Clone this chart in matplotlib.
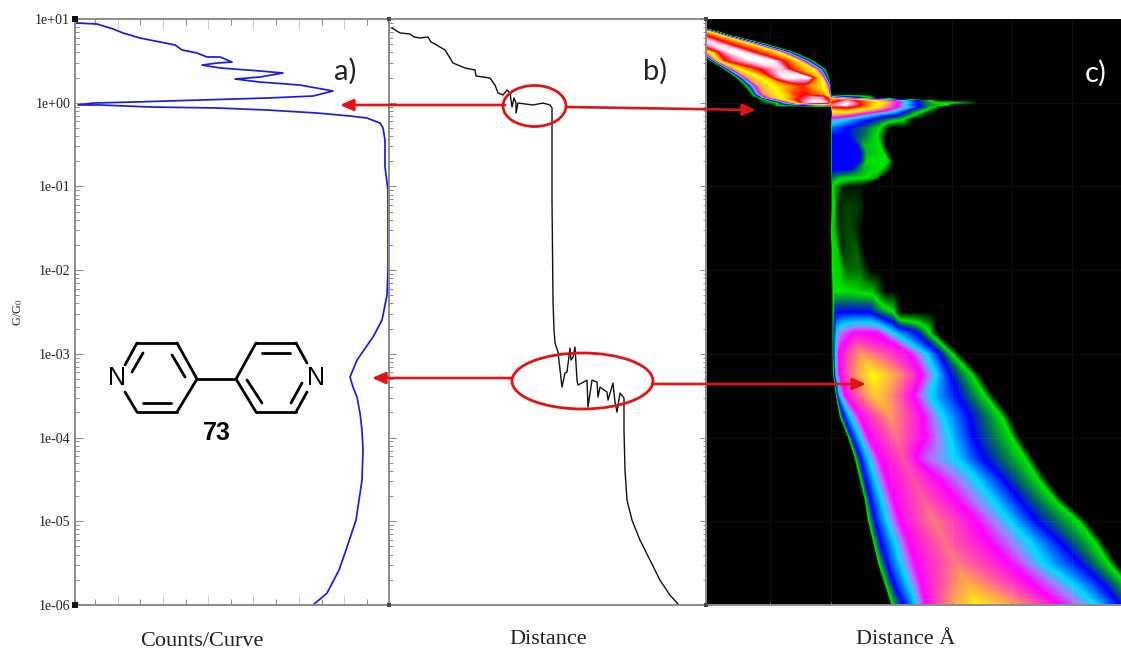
import numpy as np
import matplotlib
matplotlib.use("Agg")
import matplotlib.pyplot as plt
from matplotlib.colors import LinearSegmentedColormap
from matplotlib.patches import Ellipse
from matplotlib.ticker import FixedLocator, FixedFormatter, NullFormatter

plt.rcParams['font.family'] = ['Liberation Serif', 'DejaVu Serif']
plt.rcParams['mathtext.fontset'] = 'stix'

# ---------------- data ----------------
decades = [1e1, 1e0, 1e-1, 1e-2, 1e-3, 1e-4, 1e-5, 1e-6]
tick_labels = ['1e+01', '1e+00', '1e-01', '1e-02', '1e-03', '1e-04', '1e-05', '1e-06']

counts_x = [2, 22, 38, 48, 65, 85, 100, 107, 122, 132, 145, 157, 142, 127, 145, 185, 208, 185, 160, 185,
            225, 258, 238, 192, 125, 58, 18, 3, 25, 75, 142, 192, 242, 275, 292, 305, 308, 310, 310, 313,
            313, 313, 312, 307, 298, 282, 275, 278, 282, 285, 287, 288, 287, 281, 271, 264, 252, 238]
counts_log_g = [.952, .940, .881, .833, .773, .725, .690, .630, .594, .546, .546, .486, .474, .450, .415,
                .379, .355, .307, .283, .247, .211, .140, .080, .056, .032, .008, -.004, -.027, -.027,
                -.051, -.063, -.087, -.123, -.159, -.183, -.243, -.302, -.446, -.768, -1.043, -1.521,
                -1.999, -2.298, -2.597, -2.799, -3.074, -3.277, -3.397, -3.516, -3.707, -3.910, -4.149,
                -4.508, -4.986, -5.344, -5.583, -5.858, -6.0]

trace_x = [3, 11, 21, 25, 31, 39, 42, 46, 56, 61, 64, 76, 86, 87, 101, 106, 109, 114, 118, 121, 123, 125,
           127, 127, 129, 144, 154, 161, 163, 163, 163, 164, 165, 166, 169, 173, 176, 178, 181, 182, 184,
           186, 188, 189, 198, 199, 203, 208, 209, 211, 218, 219, 224, 226, 228, 231, 235, 235, 236, 238,
           243, 251, 261, 271, 281, 290]
trace_log_g = [.892, .833, .821, .785, .773, .785, .725, .701, .630, .534, .474, .415, .391, .319, .295,
               .211, .116, .092, .152, .116, -.051, .056, -.004, -.123, -.004, -.027, -.004, -.027, -.063,
               -.410, -1.163, -2.357, -2.716, -2.871, -2.979, -3.397, -3.229, -3.218, -2.931, -3.074,
               -3.039, -2.919, -3.314, -3.373, -3.314, -3.636, -3.314, -3.337, -3.516, -3.397, -3.456,
               -3.552, -3.349, -3.576, -3.696, -3.468, -3.528, -3.910, -4.388, -4.747, -4.986, -5.225,
               -5.464, -5.703, -5.883, -6.0]

# 2D histogram: for each log10(G) row, (distance, density level) readings
heat_rows = {
    0.90: list(zip([-620, -610, -600, -580, -500, -450, -400, -350, -300, -270, -255, -245, -236, -228],
                   [0, 1, 3, 5, 6.5, 8, 9, 9, 8, 7, 6, 3.5, 1, 0])),
    0.85: list(zip([-560, -550, -540, -520, -440, -390, -340, -300, -260, -230, -212, -200, -188, -180],
                   [0, 1, 3, 5, 6.5, 8, 9, 9, 8, 7, 6, 3.5, 1, 0])),
    0.80: list(zip([-490, -480, -470, -450, -370, -320, -280, -250, -220, -190, -170, -158, -148, -140],
                   [0, 1, 3, 5, 6.5, 8, 9.5, 9.5, 8, 7, 6, 3.5, 1, 0])),
    0.70: list(zip([-350, -340, -330, -310, -280, -250, -210, -180, -150, -110, -85, -65, -45, -35],
                   [0, 1, 3, 5, 6.5, 8, 9.7, 9.7, 8, 7, 6, 3.5, 1, 0])),
    0.60: list(zip([-245, -240, -232, -222, -200, -185, -150, -110, -70, -30, -3, 22, 40, 50],
                   [0, 1, 3, 5, 6.5, 8, 10, 10, 8, 7, 6, 3.5, 1, 0])),
    0.50: list(zip([-212, -207, -200, -192, -178, -165, -80, -20, 10, 35, 55, 78, 95, 105],
                   [0, 1, 3, 5, 6.5, 8, 10, 10, 8, 7, 6, 3.5, 1, 0])),
    0.40: list(zip([-172, -165, -155, -140, -110, -60, -10, 10, 30, 60, 100, 120, 132, 140],
                   [0, 1, 3, 5, 6.5, 8, 9.5, 9.5, 8, 7, 6, 3.5, 1, 0])),
    0.30: list(zip([-137, -128, -115, -100, -40, -25, 10, 90, 100, 110, 125, 136, 144, 148],
                   [0, 1, 3, 5, 6.5, 8, 10, 10, 8, 7, 6, 3.5, 1, 0])),
    0.20: list(zip([-112, -100, -85, -65, 0, 30, 60, 70, 90, 110, 140, 147, 151, 152],
                   [0, 1, 3, 5, 6.5, 7, 7.5, 7.5, 7, 6.5, 5.5, 4, 2, 0])),
    0.10: list(zip([-92, -80, -70, -50, 20, 40, 70, 80, 100, 130, 146, 150, 152, 153],
                   [0, 1, 3, 5, 6.5, 7.5, 8, 8, 7.5, 7, 5.5, 4, 2, 0])),
    0.06: [(-75, 0), (-65, 1), (-55, 3), (-30, 5), (20, 6.5), (60, 8), (100, 9.5), (130, 9), (150, 7), (153, 3),
           (155, 5), (200, 3), (240, 2), (270, 1), (290, 0)],
    0.03: [(-70, 0), (-40, 1), (-20, 3), (5, 5), (50, 8), (100, 10), (135, 9.5), (152, 7), (155, 7), (200, 9),
           (250, 7), (310, 5), (370, 3), (430, 1.5), (480, 0)],
    0.00: [(-65, 0), (-10, 1), (10, 3), (35, 5), (70, 9), (105, 10), (140, 9.5), (152, 7), (155, 8), (200, 10),
           (240, 8), (300, 6), (360, 4), (410, 2), (470, 1), (520, 1), (580, .3), (590, 0)],
    -0.03: [(-20, 0), (-10, 1), (60, 2), (152, 5), (155, 9), (190, 10), (240, 8), (290, 6), (350, 4), (390, 2.5),
            (440, 1.5), (500, 1), (520, 0)],
    -0.05: [(152, 0), (155, 8), (200, 8.5), (260, 7), (320, 5), (370, 3.5), (420, 2), (460, 1), (490, 0)],
    -0.10: [(153, 0), (155, 6), (200, 6.5), (260, 5), (310, 4), (350, 3), (380, 2), (420, 1.2), (470, 0)],
    -0.15: [(153, 0), (155, 5), (200, 4.5), (250, 3.5), (300, 2.5), (350, 2), (400, 1), (440, 0)],
    -0.20: [(153, 0), (155, 3.5), (200, 3), (260, 2.2), (320, 1.5), (370, 1), (400, 0)],
    -0.30: [(153, 0), (155, 2.5), (200, 2), (260, 1.5), (300, 1), (330, 0)],
    -0.40: [(153, 0), (155, 2), (200, 2), (250, 1.5), (290, 1), (320, 0)],
    -0.50: [(153, 0), (155, 2), (230, 2), (250, 1.2), (300, 1), (315, 0)],
    -0.60: [(153, 0), (155, 2), (240, 2), (260, 1.2), (310, 1), (330, 0)],
    -0.70: [(153, 0), (155, 2), (240, 2), (260, 1), (325, 1), (340, 0)],
    -0.80: [(153, 0), (155, 2), (210, 2), (250, 1.2), (300, 1), (340, 0)],
    -0.90: [(153, 0), (155, 1.5), (180, 1.1), (260, 1), (290, .7), (300, 0)],
    -1.00: [(153, 0), (155, 1), (170, .7), (190, .1), (240, .1), (250, 0)],
    -1.25: [(153, 0), (155, 1), (165, .9), (172, .15), (200, .3), (240, .25), (255, 0)],
    -1.50: [(151, 0), (153, 1), (165, .8), (175, .25), (210, .35), (250, 0)],
    -1.75: [(153, 0), (155, 1), (172, .9), (182, .25), (230, .45), (250, 0)],
    -2.00: [(153, 0), (155, 1), (180, .9), (200, .5), (240, .5), (270, 0)],
    -2.25: [(155, 0), (158, 1), (210, 1), (280, .8), (315, 0)],
    -2.50: [(155, 0), (158, 1), (165, 2), (270, 2), (300, 1.5), (340, 1), (360, 0)],
    -2.75: [(155, 0), (158, 1), (162, 2), (168, 3), (180, 3.5), (220, 4), (290, 4), (340, 3), (410, 2), (450, 1), (470, 0)],
    -3.00: [(155, 0), (158, 1), (160, 2), (165, 3), (175, 4), (240, 5), (390, 4), (440, 3), (480, 2), (515, 1), (540, 0)],
    -3.25: [(157, 0), (160, 1), (163, 2), (167, 3), (178, 4), (280, 6), (425, 4), (470, 3), (510, 2), (575, 1), (600, 0)],
    -3.50: [(165, 0), (168, 1), (172, 2), (178, 3), (195, 4), (290, 5.5), (400, 4), (450, 3), (535, 2), (615, 1), (640, 0)],
    -3.75: [(177, 0), (180, 1), (190, 2), (210, 3), (240, 4), (330, 5), (430, 4), (490, 3), (570, 2), (665, 1), (690, 0)],
    -4.00: [(202, 0), (205, 1), (215, 2), (240, 3), (265, 4), (350, 4.7), (435, 4), (510, 3), (580, 2), (695, 1), (720, 0)],
    -4.25: [(222, 0), (225, 1), (240, 2), (265, 3), (300, 4), (370, 4.5), (440, 3.6), (530, 3), (610, 2), (735, 1), (760, 0)],
    -4.50: [(237, 0), (240, 1), (255, 2), (285, 3), (320, 4), (400, 4.5), (480, 4), (590, 3), (670, 2), (775, 1), (800, 0)],
    -4.75: [(252, 0), (255, 1), (270, 2), (305, 3), (340, 4), (430, 4.6), (530, 4), (640, 3), (720, 2), (825, 1), (850, 0)],
    -5.00: [(262, 0), (265, 1), (285, 2), (320, 3), (360, 4), (460, 4.8), (590, 4), (690, 3), (770, 2), (895, 1), (920, 0)],
    -5.25: [(277, 0), (280, 1), (300, 2), (345, 3), (385, 4), (490, 4.7), (630, 4), (750, 3), (840, 2), (945, 1), (970, 0)],
    -5.50: [(292, 0), (295, 1), (320, 2), (360, 3), (405, 4), (530, 4.8), (690, 4), (790, 3), (900, 2), (985, 1), (1010, 0)],
    -5.75: [(312, 0), (315, 1), (340, 2), (385, 3), (425, 4), (560, 5.2), (760, 4), (880, 3), (970, 2), (1040, 1), (1060, 0)],
    -6.00: [(332, 0), (335, 1), (370, 2), (410, 3), (435, 4), (590, 5.9), (840, 4), (950, 3), (1020, 2), (1080, 1), (1100, 0)],
}
level_stops = [0, .5, 1, 1.5, 2, 3, 3.5, 4, 5, 6, 7, 8, 9, 10]
level_colors = ['#000000', '#006e00', '#00e600', '#006e5a', '#0000ff', '#00dcff', '#aa78ff', '#ff00ff',
                '#ff9a5a', '#ffff00', '#ff8c00', '#ff0000', '#ff82be', '#ffffff']

# ---------------- layout helpers ----------------
W, H = 1121, 650
fig = plt.figure(figsize=(W / 100, H / 100), dpi=100, facecolor='white')
GRAY = '#8c8c8c'


def make_axes(x0, x1, top=19, bottom=605):
    ax = fig.add_axes([x0 / W, 1 - bottom / H, (x1 - x0) / W, (bottom - top) / H])
    ax.set_yscale('log')
    ax.set_ylim(1e-6, 1e1)
    ax.yaxis.set_major_locator(FixedLocator(decades))
    minors = [d * s for d in decades[1:] for s in range(2, 10)]
    ax.yaxis.set_minor_locator(FixedLocator(minors))
    ax.yaxis.set_minor_formatter(NullFormatter())
    ax.set_xticks([])
    for s in ax.spines.values():
        s.set_color(GRAY)
        s.set_linewidth(1.4)
    return ax


# ---------------- panel a ----------------
ax_a = make_axes(75, 389)
ax_a.set_xlim(0, 314)
ax_a.plot(counts_x, 10.0 ** np.array(counts_log_g), color='#1c1ce0', lw=1.25)
ax_a.yaxis.set_major_formatter(FixedFormatter(tick_labels))
ax_a.tick_params(axis='y', which='major', direction='in', length=6, width=.8, color=GRAY,
                 labelsize=10, pad=3.5, labelcolor='#222222')
ax_a.tick_params(axis='y', which='minor', direction='in', length=3, width=.7, color=GRAY)
ax_a.set_xticks([20 + 45.3 * k for k in range(7)])
ax_a.set_xticks([42.5 + 45.3 * k for k in range(6)], minor=True)
ax_a.set_xticklabels([])
ax_a.tick_params(axis='x', which='major', direction='in', length=4.5, width=.8, color=GRAY, top=True, bottom=True)
ax_a.tick_params(axis='x', which='minor', direction='in', length=7, width=.6, color='#c4c4c4', top=True, bottom=True)
for t in ax_a.xaxis.get_minor_ticks():
    t.tick1line.set_linestyle((0, (1, 1)))
    t.tick2line.set_linestyle((0, (1, 1)))

# ---------------- panel b ----------------
ax_b = make_axes(389, 706)
ax_b.set_xlim(0, 317)
ax_b.plot(trace_x, 10.0 ** np.array(trace_log_g), color='#111111', lw=1.0)
ax_b.yaxis.set_major_formatter(NullFormatter())
ax_b.tick_params(axis='y', which='major', direction='in', length=5, width=.8, color=GRAY)
ax_b.tick_params(axis='y', which='minor', direction='in', length=3, width=.7, color=GRAY)

# ---------------- panel c ----------------
# Rows with the same number of readings are blended reading by reading, so slanted band edges stay straight.
row_keys = sorted(heat_rows)
fine_rows = {}
for low, high in zip(row_keys[:-1], row_keys[1:]):
    a, b = np.array(heat_rows[low], float), np.array(heat_rows[high], float)
    fine_rows[low] = a
    if len(a) == len(b):
        for f in np.arange(1, 6) / 6:
            fine_rows[low + f * (high - low)] = a + f * (b - a)
fine_rows[row_keys[-1]] = np.array(heat_rows[row_keys[-1]], float)

x_edges = np.linspace(-222, 1023, 831)
x_mid = (x_edges[:-1] + x_edges[1:]) / 2
row_l = np.array(sorted(fine_rows))
coarse = np.array([np.interp(x_mid, fine_rows[l][:, 0], fine_rows[l][:, 1], left=0, right=0) for l in row_l])
l_edges = np.linspace(-6, 1, 587)
l_mid = (l_edges[:-1] + l_edges[1:]) / 2
density = np.array([np.interp(l_mid, row_l, coarse[:, j], right=0) for j in range(len(x_mid))]).T
cmap = LinearSegmentedColormap.from_list('conductance', [(s / 10, c) for s, c in zip(level_stops, level_colors)], N=512)
ax_c = make_axes(706, 1121)
ax_c.pcolormesh(x_edges, 10.0 ** l_edges, density, cmap=cmap, vmin=0, vmax=10, shading='flat', rasterized=True)
ax_c.set_xlim(-222, 1023)
ax_c.set_xticks([-30, 153, 333, 516, 696, 876])
ax_c.set_xticklabels([])
ax_c.yaxis.set_major_formatter(NullFormatter())
ax_c.grid(True, which='major', color='white', alpha=.06, lw=.6)
ax_c.set_axisbelow(False)
ax_c.tick_params(axis='x', which='major', direction='in', length=2, width=.6, color=GRAY, bottom=True)
ax_c.tick_params(axis='y', which='major', direction='out', length=4, width=.8, color=GRAY)
ax_c.tick_params(axis='y', which='minor', direction='out', length=2.5, width=.7, color=GRAY)
for name in ('top', 'right'):
    ax_c.spines[name].set_visible(False)

# ---------------- overlay: labels, arrows, molecule ----------------
ov = fig.add_axes([0, 0, 1, 1], zorder=10)
ov.set_xlim(0, W)
ov.set_ylim(H, 0)
ov.axis('off')
ov.patch.set_alpha(0)

RED = '#e01414'
for (x0, y0, x1, y1) in [(505, 105, 340, 105), (567, 107, 756, 110), (512, 378, 372, 378), (652, 384, 866, 384)]:
    ov.annotate('', xy=(x1, y1), xytext=(x0, y0),
                arrowprops=dict(arrowstyle='-|>,head_length=.5,head_width=.22', color=RED, lw=1.9,
                                shrinkA=0, shrinkB=0, mutation_scale=16))
ov.add_patch(Ellipse((534.5, 106), 63, 41, fill=False, ec=RED, lw=2))
ov.add_patch(Ellipse((582.5, 381), 141, 56, fill=False, ec=RED, lw=2))

for (x, y, s) in [(75, 19, 6), (75, 605, 6)]:
    ov.plot([x], [y], 's', color='#111111', ms=s * .72, mew=0)
for x in (389, 706):
    for y in (19, 605):
        ov.plot([x], [y], 's', color='#444444', ms=2.5, mew=0)

sans = ['Lato', 'DejaVu Sans']
ov.text(345, 71, 'a)', family=sans, fontsize=21, ha='center', va='center', color='#222222')
ov.text(655, 71, 'b)', family=sans, fontsize=21, ha='center', va='center', color='#222222')
ov.text(1096, 73, 'c)', family=sans, fontsize=21, ha='center', va='center', color='white')

ov.text(202, 641, 'Counts/Curve', fontsize=16, ha='center', va='center', color='#222222')
ov.text(548, 640, 'Distance', fontsize=16, ha='center', va='center', color='#222222')
ov.text(906, 640, 'Distance Å', fontsize=16, ha='center', va='center', color='#222222')
ov.text(18, 312, 'G/G$_0$', fontsize=9, rotation=90, ha='center', va='center', color='#222222')

bonds = [((137, 343), (177, 343)), ((177, 343), (197, 379)), ((197, 379), (177, 412)), ((177, 412), (137, 412)),
         ((137, 343), (125, 365)), ((125, 392), (137, 412)), ((143, 353), (132, 372)), ((172, 355), (185, 377)),
         ((143, 403), (171, 403)), ((197, 379), (236, 379)), ((236, 379), (256, 343)), ((256, 343), (296, 343)),
         ((296, 343), (307, 363)), ((307, 392), (296, 412)), ((296, 412), (256, 412)), ((256, 412), (236, 379)),
         ((262, 353), (290, 353)), ((247, 380), (262, 403)), ((302, 383), (291, 403))]
for p, q in bonds:
    ov.plot([p[0], q[0]], [p[1], q[1]], color='black', lw=2, solid_capstyle='round')
mol = ['Liberation Sans', 'DejaVu Sans']
ov.text(117, 378, 'N', family=mol, fontsize=18, ha='center', va='center', color='black')
ov.text(316, 378, 'N', family=mol, fontsize=18, ha='center', va='center', color='black')
ov.text(217, 433, '73', family=mol, fontsize=18, fontweight='bold', ha='center', va='center', color='black')

fig.savefig('out.png', dpi=100, facecolor='white')
